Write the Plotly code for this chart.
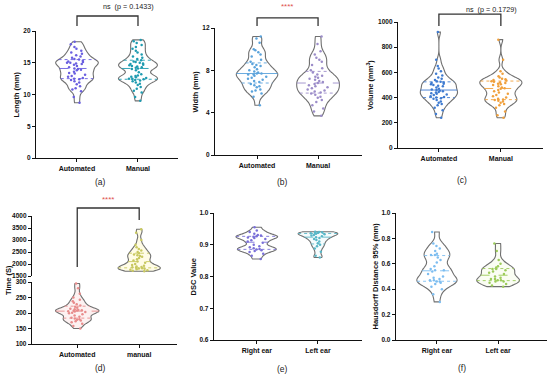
import numpy as np
import plotly.graph_objects as go

# ---------------- data ----------------
LEN_AUTO = [8.7, 9.6, 10.5, 10.8, 11.0, 11.3, 11.6, 11.9, 12.1, 12.3, 12.4, 12.5, 12.6, 12.8, 12.9,
            13.1, 13.3, 13.4, 13.6, 13.8, 13.9, 14.0, 14.1, 14.3, 14.5, 14.7, 14.8, 14.9, 15.0, 15.0,
            15.1, 15.2, 15.3, 15.5, 15.6, 15.8, 16.0, 16.2, 16.4, 16.6, 16.9, 17.2, 17.5, 17.9, 18.3]
LEN_MAN = [9.0, 9.6, 10.3, 10.6, 10.9, 11.2, 11.5, 11.7, 11.9, 12.1, 12.2, 12.3, 12.4, 12.5, 12.5,
           12.6, 12.7, 12.8, 12.9, 13.0, 13.2, 13.5, 13.8, 14.0, 14.1, 14.2, 14.3, 14.4, 14.5, 14.6,
           14.7, 14.8, 14.9, 15.0, 15.1, 15.2, 15.4, 15.6, 15.8, 16.0, 16.3, 16.6, 16.9, 17.2, 17.5,
           17.8, 18.1, 18.4, 18.6]
WID_AUTO = [4.7, 5.5, 5.8, 6.0, 6.1, 6.2, 6.4, 6.5, 6.6, 6.7, 6.9, 7.0, 7.1, 7.2, 7.3, 7.4, 7.5,
            7.6, 7.6, 7.7, 7.7, 7.8, 7.9, 8.0, 8.1, 8.3, 8.4, 8.5, 8.6, 8.8, 9.0, 9.3, 9.5, 9.7,
            9.9, 10.0, 10.6, 11.0, 11.2]
WID_MAN = [3.7, 4.1, 4.4, 4.7, 5.0, 5.2, 5.4, 5.5, 5.7, 5.8, 5.9, 6.0, 6.1, 6.2, 6.3, 6.4, 6.5,
           6.6, 6.7, 6.8, 6.9, 7.0, 7.1, 7.2, 7.3, 7.4, 7.5, 7.6, 7.8, 8.0, 8.2, 8.5, 8.8, 9.0,
           9.2, 9.5, 9.8, 10.5, 11.2]
VOL_AUTO = [240, 270, 300, 320, 340, 350, 360, 370, 380, 390, 395, 400, 405, 410, 420, 425, 430,
            435, 440, 445, 450, 455, 460, 465, 470, 480, 490, 495, 500, 505, 510, 515, 520, 525,
            530, 540, 550, 560, 575, 590, 610, 630, 650, 700, 920]
VOL_MAN = [240, 260, 290, 320, 340, 350, 360, 370, 375, 380, 385, 390, 400, 410, 420, 430, 440,
           450, 460, 470, 475, 480, 490, 500, 505, 510, 515, 520, 525, 530, 535, 540, 545, 550,
           560, 570, 590, 610, 700, 860]
TIME_AUTO = [150, 158, 165, 170, 173, 176, 178, 180, 182, 185, 188, 192, 196, 199, 201, 203, 205,
             206, 207, 208, 209, 210, 212, 214, 217, 220, 224, 228, 233, 238, 243, 250, 262, 280, 295]
TIME_MAN = [1700, 1720, 1740, 1760, 1780, 1800, 1810, 1820, 1840, 1860, 1880, 1900, 1930, 1960,
            2000, 2050, 2100, 2150, 2200, 2250, 2300, 2330, 2360, 2400, 2450, 2500, 2560, 2620,
            2700, 2800, 3000, 3300, 3450]
DSC_RIGHT = [0.855, 0.865, 0.872, 0.877, 0.880, 0.883, 0.885, 0.887, 0.889, 0.892, 0.895, 0.900,
             0.906, 0.910, 0.914, 0.918, 0.921, 0.923, 0.925, 0.927, 0.929, 0.931, 0.935,
             0.940, 0.945, 0.955]
DSC_LEFT = [0.860, 0.865, 0.878, 0.888, 0.895, 0.900, 0.905, 0.910, 0.915, 0.918, 0.921, 0.924,
            0.927, 0.929, 0.931, 0.933, 0.935, 0.936, 0.937, 0.938, 0.939, 0.940, 0.941]
HD_RIGHT = [0.30, 0.36, 0.40, 0.42, 0.44, 0.45, 0.46, 0.46, 0.47, 0.47, 0.48, 0.49, 0.50, 0.52,
            0.54, 0.55, 0.55, 0.56, 0.58, 0.61, 0.63, 0.65, 0.67, 0.67, 0.68, 0.70, 0.72, 0.74,
            0.76, 0.85]
HD_LEFT = [0.42, 0.43, 0.44, 0.45, 0.46, 0.46, 0.47, 0.47, 0.48, 0.48, 0.49, 0.50, 0.52, 0.53,
           0.54, 0.55, 0.56, 0.56, 0.57, 0.58, 0.60, 0.63, 0.70, 0.76]

CATS_ABC = ["Automated", "Manual"]
CATS_D = ["Automated", "manual"]
CATS_EF = ["Right ear", "Left ear"]
Y_TITLES = ["Length (mm)", "Width (mm)", "Volume (mm<sup>3</sup>)", "Time (S)", "DSC Value",
            "Hausdorff Distance 95% (mm)"]
PANEL_LABELS = ["(a)", "(b)", "(c)", "(d)", "(e)", "(f)"]
SIG_A, SIG_B, SIG_C, SIG_D = "ns  (p = 0.1433)", "****", "ns  (p = 0.1729)", "****"

# ---------------- helpers ----------------
W, H = 550, 381
FONT = "Liberation Sans"
OUTLINE = "#707070"


def dx(a, b):
    return [a / W, b / W]


def dy(top, bot):
    return [1 - bot / H, 1 - top / H]


fig = go.Figure()


def violin(vals, pos, xa, ya, color, bw, width, fill="rgba(255,255,255,0)", solid_median=False):
    fig.add_trace(go.Violin(
        x=[pos] * len(vals), y=vals, xaxis=xa, yaxis=ya, width=width, bandwidth=bw,
        spanmode="hard", points="all", pointpos=0, jitter=0.5, scalemode="width",
        marker=dict(size=2.5, color=color, line=dict(width=0)),
        line=dict(color=OUTLINE, width=1.1), fillcolor=fill,
        box=dict(visible=False), meanline=dict(visible=False),
        hoverinfo="skip", showlegend=False))
    v = np.asarray(vals, float)
    grid = np.linspace(v.min(), v.max(), 600)

    def dens(y):
        y = np.atleast_1d(y)
        return np.exp(-0.5 * ((y[None, :] - v[:, None]) / bw) ** 2).sum(0)

    kmax = dens(grid).max()
    qs = np.percentile(v, [25, 50, 75])
    for q, dash in zip(qs, ["dot", "solid" if solid_median else "dash", "dot"]):
        hw = width / 2 * dens(q)[0] / kmax
        fig.add_trace(go.Scatter(x=[pos - hw, pos + hw], y=[q, q], xaxis=xa, yaxis=ya,
                                 mode="lines", line=dict(color=color, width=0.9, dash=dash),
                                 hoverinfo="skip", showlegend=False))


# (a)
violin(LEN_AUTO, 0, "x", "y", "#6A5FE0", 0.48, 0.70)
violin(LEN_MAN, 1, "x", "y", "#1E9BB0", 0.48, 0.64)
# (b)
violin(WID_AUTO, 0, "x2", "y2", "#5BA3DB", 0.38, 0.68, solid_median=True)
violin(WID_MAN, 1, "x2", "y2", "#9C8DC9", 0.40, 0.70)
# (c)
violin(VOL_AUTO, 0, "x3", "y3", "#3F7BD0", 28, 0.60, solid_median=True)
violin(VOL_MAN, 1, "x3", "y3", "#F0A03C", 28, 0.68)
# (d)
violin(TIME_AUTO, 0, "x4", "y4", "#E88C8C", 8, 0.70, fill="#FDF1F1")
violin(TIME_MAN, 1, "x4", "y7", "#C8C860", 110, 0.68, fill="#FFFCE6")
# (e)
violin(DSC_RIGHT, 0, "x5", "y5", "#7A70D8", 0.0055, 0.68)
violin(DSC_LEFT, 1, "x5", "y5", "#5AB8C8", 0.0065, 0.65, fill="#F6FCFD")
# (f)
violin(HD_RIGHT, 0, "x6", "y6", "#7DBDF0", 0.035, 0.66)
violin(HD_LEFT, 1, "x6", "y6", "#9CCB5A", 0.03, 0.70, fill="#FAFDF3")

# ---------------- axes ----------------
common = dict(showline=True, linecolor="#111", linewidth=1.4, ticks="outside", ticklen=3,
              tickwidth=1.2, tickcolor="#111", showgrid=False, zeroline=False,
              automargin=False, fixedrange=True)
xfont = dict(family=FONT, size=7, color="#111", weight="bold")
yfont = dict(family=FONT, size=6.5, color="#111", weight="bold")


def xax(dom, rng, labels, anchor):
    return dict(common, domain=dom, range=rng, tickvals=[0, 1], ticktext=labels,
                anchor=anchor, tickfont=xfont)


def yax(dom, rng, dtick, anchor, fmt=None):
    d = dict(common, domain=dom, range=rng, dtick=dtick, tick0=rng[0], anchor=anchor,
             tickfont=yfont)
    if fmt:
        d["tickformat"] = fmt
    return d


layout = dict(
    width=W, height=H, margin=dict(l=0, r=0, t=0, b=0), template="none",
    paper_bgcolor="white", plot_bgcolor="rgba(0,0,0,0)",
    violinmode="overlay", violingap=0, violingroupgap=0, showlegend=False,
    xaxis=xax(dx(36, 178), [-0.672, 1.656], CATS_ABC, "y"),
    yaxis=yax(dy(31, 158), [0, 20], 5, "x"),
    xaxis2=xax(dx(215, 362), [-0.689, 1.72], CATS_ABC, "y2"),
    yaxis2=yax(dy(28, 155), [0, 12], 4, "x2"),
    xaxis3=xax(dx(398, 543), [-0.66, 1.68], CATS_ABC, "y3"),
    yaxis3=yax(dy(22, 148), [0, 1000], 200, "x3"),
    xaxis4=xax(dx(32, 177), [-0.73, 1.61], CATS_D, "y4"),
    yaxis4=yax(dy(282, 344), [100, 300], 50, "x4"),
    yaxis7=yax(dy(216, 276), [1500, 4000], 500, "x4"),
    xaxis5=xax(dx(214, 362), [-0.70, 1.72], CATS_EF, "y5"),
    yaxis5=yax(dy(213, 340), [0.6, 1.0], 0.1, "x5", ".1f"),
    xaxis6=xax(dx(396, 547), [-0.67, 1.80], CATS_EF, "y6"),
    yaxis6=yax(dy(213, 340), [0, 1.0], 0.2, "x6", ".1f"),
)
fig.update_layout(**layout)

# ---------------- brackets & significance ----------------
BR = dict(color="#333", width=1.3)


def bracket(xa, ya, top, left_bot, right_bot):
    fig.add_shape(type="path", xref=xa, yref=ya + " domain",
                  path=f"M 0,{left_bot} L 0,{top} L 1,{top} L 1,{right_bot}", line=BR)


bracket("x", "y", 1.118, 1.039, 1.039)
bracket("x2", "y2", 1.079, 1.016, 1.016)
bracket("x3", "y3", 1.063, 0.968, 0.968)
bracket("x4", "y7", 1.133, 0.15, 0.933)

sig_font = dict(family=FONT, size=7.2, color="#222")
star_font = dict(family=FONT, size=8, color="#E05050")
ann_common = dict(showarrow=False, xanchor="center", yanchor="middle")
fig.add_annotation(x=0.84, y=1.19, xref="x", yref="y domain", text=SIG_A, font=sig_font,
                   **ann_common)
fig.add_annotation(x=0.49, y=1.17, xref="x2", yref="y2 domain", text=SIG_B, font=star_font,
                   **ann_common)
fig.add_annotation(x=0.85, y=1.1, xref="x3", yref="y3 domain", text=SIG_C, font=sig_font,
                   **ann_common)
fig.add_annotation(x=0.5, y=1.28, xref="x4", yref="y7 domain", text=SIG_D, font=star_font,
                   **ann_common)

# ---------------- y titles & panel labels ----------------
title_pos = [(16, 94.5), (195, 91.5), (370, 85), (8, 280), (193, 276.5), (375, 276.5)]
for t, (px, py) in zip(Y_TITLES, title_pos):
    fig.add_annotation(x=px / W, y=1 - py / H, xref="paper", yref="paper", text=t,
                       textangle=-90,
                       font=dict(family=FONT, size=7.5, color="#111", weight="bold"),
                       **ann_common)

label_pos = [(100, 182), (282, 182), (462, 180), (100, 368), (282, 369), (462, 368)]
for t, (px, py) in zip(PANEL_LABELS, label_pos):
    fig.add_annotation(x=px / W, y=1 - py / H, xref="paper", yref="paper", text=t,
                       font=dict(family=FONT, size=8.5, color="#222"), **ann_common)

fig.write_html("out.html", config={"displayModeBar": False},
               post_script="document.body.style.margin='0px';document.body.style.padding='0px';")
